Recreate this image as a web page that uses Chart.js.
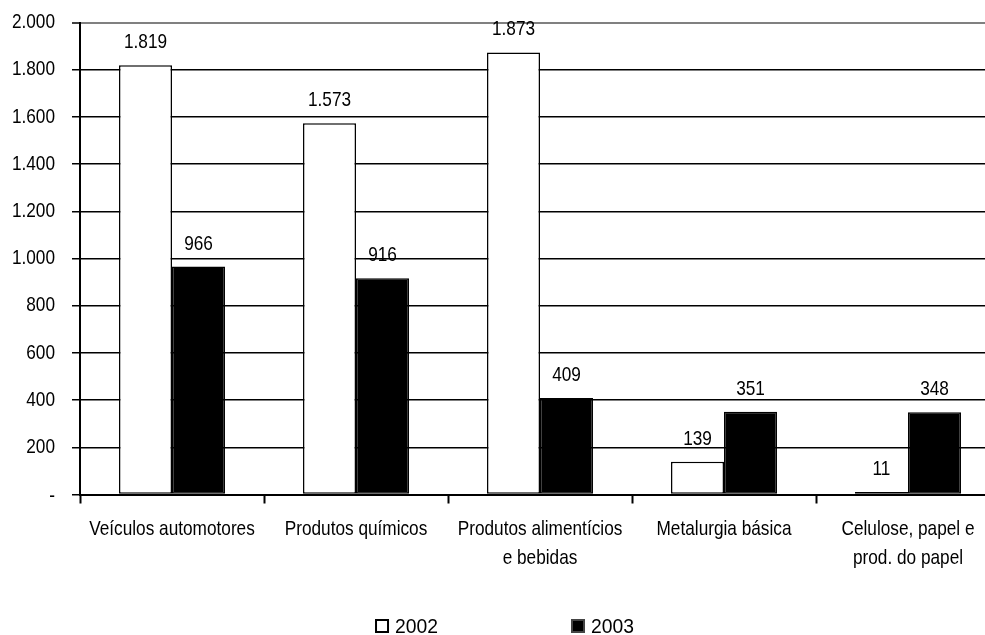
<!DOCTYPE html>
<html>
<head>
<meta charset="utf-8">
<script src="https://cdn.jsdelivr.net/npm/chart.js@4.4.1/dist/chart.umd.min.js"></script>
<style>
  html, body { margin: 0; padding: 0; background: #fff; overflow: hidden; }
  #wrap { width: 1000px; height: 635px; }
</style>
</head>
<body>
<div id="wrap"><canvas id="c" width="1000" height="635"></canvas></div>
<script>
// Sectors (two-line labels where the category name wraps)
const categories = [
  'Veículos automotores',
  'Produtos químicos',
  ['Produtos alimentícios', 'e bebidas'],
  'Metalurgia básica',
  ['Celulose, papel e', 'prod. do papel']
];
const seriesNames = ['2002', '2003'];
const values2002 = [1819, 1573, 1873, 139, 11];
const values2003 = [966, 916, 409, 351, 348];
const yTicks = [0, 200, 400, 600, 800, 1000, 1200, 1400, 1600, 1800, 2000];

const FONT = '"Liberation Sans", Arial, sans-serif';
const FONT_SIZE = 21;
const NARROW = 0.82;   // horizontal squeeze giving a condensed face

// Brazilian thousands separator, zero shown as a dash
function fmt(v) {
  if (v === 0) return '-';
  return String(Math.round(v)).replace(/\B(?=(\d{3})+(?!\d))/g, '.');
}

// Draw condensed text anchored at (x, y)
function narrowText(ctx, text, x, y, align, baseline, squeeze) {
  ctx.save();
  ctx.translate(x, y);
  ctx.scale(squeeze || NARROW, 1);
  ctx.textAlign = align;
  ctx.textBaseline = baseline;
  ctx.fillText(text, 0, 0);
  ctx.restore();
}

// Axis labels and values above bars, all in the condensed face
const narrowLabels = {
  id: 'narrowLabels',
  afterDatasetsDraw(chart) {
    const ctx = chart.ctx;
    const xs = chart.scales.x, ys = chart.scales.y;
    ctx.save();
    ctx.font = FONT_SIZE + 'px ' + FONT;
    ctx.fillStyle = '#000';

    // y tick labels
    ys.ticks.forEach(t => {
      const py = ys.getPixelForValue(t.value) + (t.value === 0 ? 2 : 0);
      narrowText(ctx, fmt(t.value), xs.left - 25, py, 'right', 'middle');
    });

    // category labels
    chart.data.labels.forEach((lab, i) => {
      const lines = Array.isArray(lab) ? lab : [lab];
      const px = xs.getPixelForTick(i);
      lines.forEach((ln, k) => {
        narrowText(ctx, ln, px, xs.top + 35 + k * 29, 'center', 'middle');
      });
    });

    // bar values
    chart.data.datasets.forEach((ds, i) => {
      chart.getDatasetMeta(i).data.forEach((bar, j) => {
        narrowText(ctx, fmt(ds.data[j]), bar.x, bar.y - 17, 'center', 'alphabetic');
      });
    });
    ctx.restore();
  }
};

// Legend row with square swatches, widely spaced
const bottomLegend = {
  id: 'bottomLegend',
  afterDraw(chart, args, opts) {
    const ctx = chart.ctx;
    ctx.save();
    ctx.font = FONT_SIZE + 'px ' + FONT;
    const box = opts.box, gap = opts.gap, spacing = opts.spacing, sq = opts.squeeze;
    const items = chart.data.datasets.map(ds => ({
      text: ds.label, fill: ds.backgroundColor, stroke: ds.legendBorder
    }));
    const widths = items.map(it => box + gap + ctx.measureText(it.text).width * sq);
    const total = widths.reduce((a, b) => a + b, 0) + spacing * (items.length - 1);
    let x = opts.centerX - total / 2;
    const y = opts.y;
    items.forEach((it, i) => {
      ctx.fillStyle = it.fill;
      ctx.fillRect(x, y - box / 2, box, box);
      ctx.lineWidth = 2;
      ctx.strokeStyle = it.stroke;
      ctx.strokeRect(x, y - box / 2, box, box);
      ctx.fillStyle = '#000';
      narrowText(ctx, it.text, x + box + gap, y + 1, 'left', 'middle', sq);
      x += widths[i] + spacing;
    });
    ctx.restore();
  }
};

new Chart(document.getElementById('c'), {
  type: 'bar',
  data: {
    labels: categories,
    datasets: [
      {
        label: seriesNames[0],
        data: values2002,
        backgroundColor: '#ffffff',
        borderColor: '#000000',
        borderWidth: 1.5,
        legendBorder: '#000000'
      },
      {
        label: seriesNames[1],
        data: values2003,
        backgroundColor: '#000000',
        borderColor: '#000000',
        borderWidth: 1.5,
        legendBorder: '#444444'
      }
    ]
  },
  options: {
    responsive: false,
    animation: false,
    devicePixelRatio: 1,
    layout: { padding: { top: 22.5, right: 0, bottom: 50.5, left: 0 } },
    datasets: {
      bar: { barPercentage: 1.0, categoryPercentage: 0.576, borderSkipped: false }
    },
    scales: {
      x: {
        grid: {
          display: true,
          offset: true,
          drawOnChartArea: false,
          drawTicks: true,
          tickLength: 9,
          tickColor: '#000',
          tickWidth: 2
        },
        border: { display: true, color: '#000', width: 2 },
        ticks: { display: false, autoSkip: false, maxRotation: 0 },
        afterFit(scale) { scale.height = 90; }
      },
      y: {
        min: 0,
        max: 2000,
        afterBuildTicks(scale) { scale.ticks = yTicks.map(v => ({ value: v })); },
        grid: {
          color: ctx => (ctx.tick && ctx.tick.value === 2000 ? '#808080' : '#000'),
          lineWidth: ctx => (ctx.tick && ctx.tick.value === 2000 ? 2 : 1.5),
          drawTicks: true,
          tickLength: 8,
          tickColor: '#000',
          tickWidth: 1.5
        },
        border: { display: true, color: '#000', width: 2 },
        ticks: { display: false },
        afterFit(scale) { scale.width = 80; }
      }
    },
    plugins: {
      legend: { display: false },
      tooltip: { enabled: false },
      bottomLegend: { box: 12, gap: 7, spacing: 134, centerX: 505, y: 626, squeeze: 0.92 }
    }
  },
  plugins: [narrowLabels, bottomLegend]
});
</script>
</body>
</html>
